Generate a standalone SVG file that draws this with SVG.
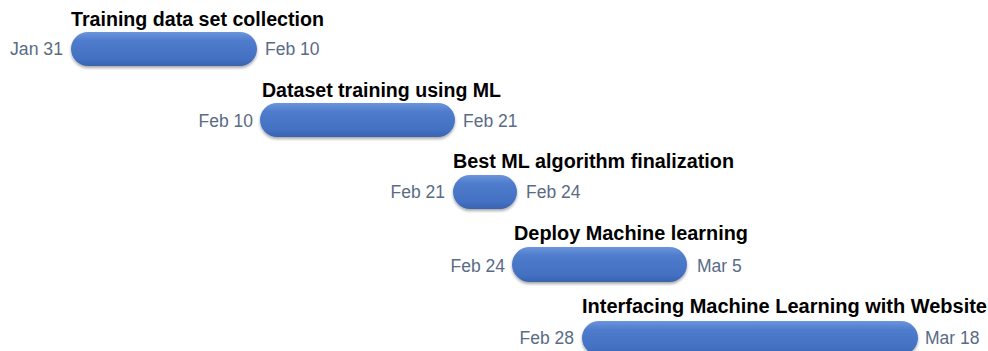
<svg xmlns="http://www.w3.org/2000/svg" width="988" height="351" viewBox="0 0 988 351">
  <defs>
    <linearGradient id="barFill" x1="0" y1="0" x2="0" y2="1">
      <stop offset="0" stop-color="#6b95dc"/>
      <stop offset="0.25" stop-color="#4f7ccc"/>
      <stop offset="0.8" stop-color="#4370c2"/>
      <stop offset="1" stop-color="#3a62ad"/>
    </linearGradient>
    <filter id="barShadow" x="-10%" y="-30%" width="120%" height="170%">
      <feGaussianBlur in="SourceAlpha" stdDeviation="1.5"/>
      <feOffset dy="2" result="b"/>
      <feComponentTransfer><feFuncA type="linear" slope="0.35"/></feComponentTransfer>
      <feMerge><feMergeNode/><feMergeNode in="SourceGraphic"/></feMerge>
    </filter>
  </defs>
  <style>
    .bar { fill: url(#barFill); filter: url(#barShadow); }
    .title { font-family: "Liberation Sans", Arial, sans-serif; font-weight: bold; font-size: 19.5px; fill: #000; }
    .date { font-family: "Liberation Sans", Arial, sans-serif; font-size: 17.5px; fill: #596b86; dominant-baseline: central; }
    .start { text-anchor: end; }
  </style>

  <g id="task1">
    <text class="title" x="71" y="26" textLength="253" lengthAdjust="spacingAndGlyphs">Training data set collection</text>
    <rect class="bar" x="71" y="32" width="186" height="34" rx="17"/>
    <text class="date start" x="63" y="49" textLength="53" lengthAdjust="spacingAndGlyphs">Jan 31</text>
    <text class="date" x="265" y="49">Feb 10</text>
  </g>

  <g id="task2">
    <text class="title" x="262" y="97" textLength="239" lengthAdjust="spacingAndGlyphs">Dataset training using ML</text>
    <rect class="bar" x="260" y="103" width="195" height="34" rx="17"/>
    <text class="date start" x="253" y="121">Feb 10</text>
    <text class="date" x="463" y="121">Feb 21</text>
  </g>

  <g id="task3">
    <text class="title" x="453" y="168" textLength="281" lengthAdjust="spacingAndGlyphs">Best ML algorithm finalization</text>
    <rect class="bar" x="453" y="175" width="64" height="34" rx="17"/>
    <text class="date start" x="445" y="192">Feb 21</text>
    <text class="date" x="526" y="192">Feb 24</text>
  </g>

  <g id="task4">
    <text class="title" x="514" y="240" textLength="234" lengthAdjust="spacingAndGlyphs">Deploy Machine learning</text>
    <rect class="bar" x="512" y="247" width="175" height="35" rx="17.5"/>
    <text class="date start" x="505" y="266">Feb 24</text>
    <text class="date" x="697" y="266">Mar 5</text>
  </g>

  <g id="task5">
    <text class="title" x="582" y="313" textLength="405" lengthAdjust="spacingAndGlyphs">Interfacing Machine Learning with Website</text>
    <rect class="bar" x="582" y="321" width="336" height="34" rx="17"/>
    <text class="date start" x="574" y="338">Feb 28</text>
    <text class="date" x="925" y="338">Mar 18</text>
  </g>

  <g id="connectors"/>
</svg>
